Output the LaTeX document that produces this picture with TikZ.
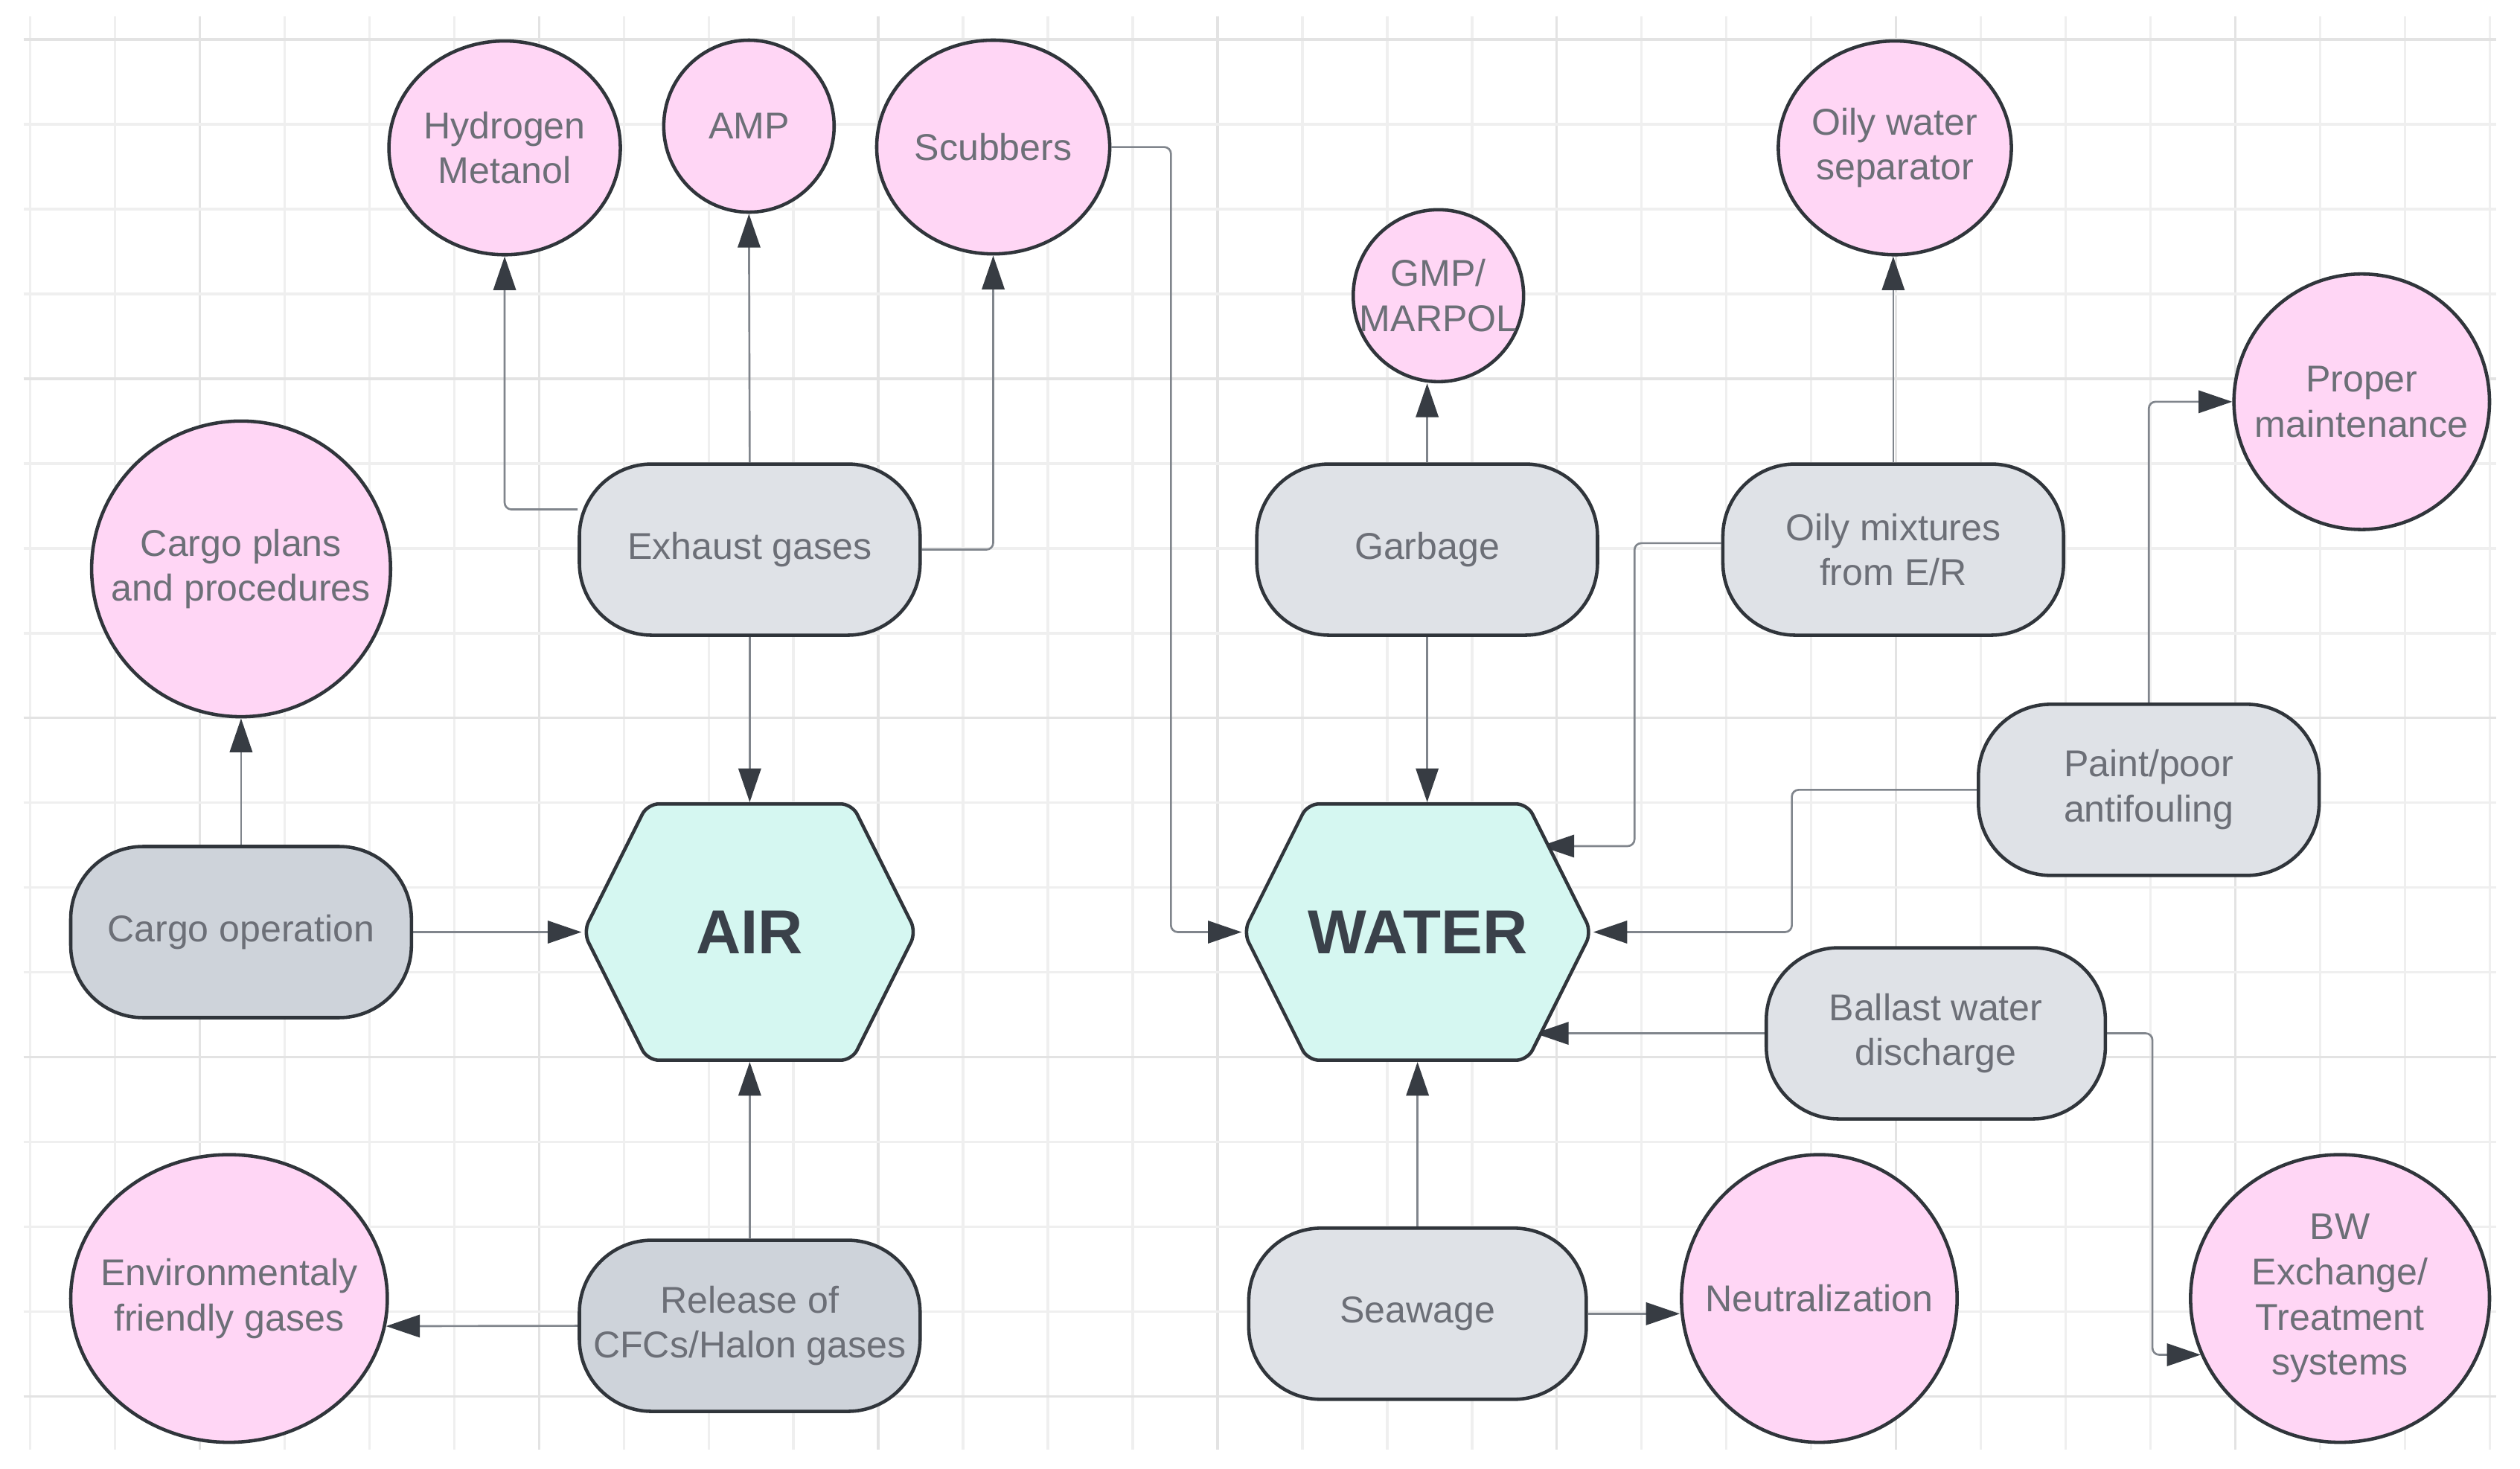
\documentclass[tikz,border=0pt]{standalone}
\usepackage{fontspec}
\setmainfont{Liberation Sans}
\usepackage{xcolor}
\usetikzlibrary{arrows.meta, positioning, calc, shapes.geometric, shapes.symbols}

\definecolor{gridlight}{HTML}{EFEFEF}
\definecolor{griddark}{HTML}{E3E3E3}
\definecolor{edgecol}{HTML}{30353B}
\definecolor{linecol}{HTML}{80858C}
\definecolor{tipcol}{HTML}{373C43}
\definecolor{txtcol}{HTML}{6C6F77}
\definecolor{hubtxt}{HTML}{3A414A}
\definecolor{pinkfill}{HTML}{FFD6F5}
\definecolor{grayfill}{HTML}{DFE2E7}
\definecolor{grayfilldark}{HTML}{CED3DA}
\definecolor{hubfill}{HTML}{D5F7F1}

\pgfdeclarelayer{background}
\pgfsetlayers{background,main}

\begin{document}
\begin{tikzpicture}[
  outcome/.style={ellipse, draw=edgecol, line width=0.6pt, fill=pinkfill, text=txtcol,
    align=center, inner sep=-8mm, font=\fontsize{6.6}{8}\selectfont},
  source/.style={rectangle, rounded corners=0.45cm, draw=edgecol, line width=0.6pt,
    fill=grayfill, text=txtcol, align=center, inner sep=0pt,
    minimum width=2.12cm, minimum height=1.065cm, font=\fontsize{6.6}{8}\selectfont},
  hub/.style={signal, signal to=west and east, signal pointer angle=126.87,
    draw=edgecol, line width=0.6pt, fill=hubfill, rounded corners=2pt, inner sep=0pt,
    minimum width=2.07cm, minimum height=1.595cm, text=hubtxt,
    font=\bfseries\fontsize{11}{13}\selectfont},
  flow/.style={draw=linecol, line width=0.35pt, rounded corners=1.2pt,
    -{Triangle[length=2.1mm, width=1.4mm, color=tipcol]}}
]

% Define lengths
\def\picw{15.68}
\def\pich{9.14}
\def\cell{0.5277}

\useasboundingbox (0,0) rectangle (\picw,\pich);

% Draw the paper and the grid
\begin{pgfonlayer}{background}
\fill[white] (0,0) rectangle (\picw,\pich);
\foreach \i in {0,...,29} {
  \pgfmathtruncatemacro{\r}{mod(\i,4)}
  \ifnum\r=2 \def\gc{griddark}\else\def\gc{gridlight}\fi
  \draw[\gc, line width=0.45pt] (0.188+\cell*\i,9.04) -- (0.188+\cell*\i,0.12);
}
\foreach \j in {0,...,16} {
  \pgfmathtruncatemacro{\r}{mod(\j,4)}
  \ifnum\r=0 \def\gc{griddark}\else\def\gc{gridlight}\fi
  \draw[\gc, line width=0.45pt] (0.147,8.894-\cell*\j) -- (15.53,8.894-\cell*\j);
}
\end{pgfonlayer}

% Draw the two hubs
\node[hub] (air) at (4.665,3.34) {AIR};
\node[hub] (water) at (8.82,3.34) {WATER};

% Draw the air sources and measures
\node[source] (exhaust) at (4.665,5.72) {Exhaust gases};
\node[source, fill=grayfilldark] (cargoop) at (1.50,3.34) {Cargo operation};
\node[source, fill=grayfilldark] (release) at (4.665,0.89) {Release of\\CFCs/Halon gases};
\node[outcome, minimum width=1.44cm, minimum height=1.33cm] (hydro) at (3.14,8.22) {Hydrogen\\Metanol};
\node[outcome, minimum width=1.06cm, minimum height=1.07cm] (amp) at (4.66,8.355) {AMP};
\node[outcome, minimum width=1.45cm, minimum height=1.33cm] (scub) at (6.18,8.225) {Scubbers};
\node[outcome, minimum width=1.86cm, minimum height=1.84cm] (plans) at (1.50,5.60) {Cargo plans\\and procedures};
\node[outcome, minimum width=1.97cm, minimum height=1.79cm] (env) at (1.425,1.06) {Environmentaly\\friendly gases};

% Draw the water sources and measures
\node[source] (garbage) at (8.88,5.72) {Garbage};
\node[source] (oily) at (11.78,5.72) {Oily mixtures\\from E/R};
\node[source] (paint) at (13.37,4.225) {Paint/poor\\antifouling};
\node[source, minimum width=2.11cm] (ballast) at (12.045,2.71) {Ballast water\\discharge};
\node[source, minimum width=2.10cm] (seawage) at (8.82,0.965) {Seawage};
\node[outcome, minimum width=1.06cm, minimum height=1.07cm] (gmp) at (8.95,7.30) {GMP/\\MARPOL};
\node[outcome, minimum width=1.45cm, minimum height=1.33cm] (sep) at (11.79,8.22) {Oily water\\separator};
\node[outcome, minimum width=1.59cm, minimum height=1.59cm] (proper) at (14.695,6.64) {Proper\\maintenance};
\node[outcome, minimum width=1.715cm, minimum height=1.79cm] (neutral) at (11.32,1.06) {Neutralization};
\node[outcome, minimum width=1.86cm, minimum height=1.79cm] (bw) at (14.56,1.06) {BW\\Exchange/\\Treatment\\systems};

\begin{pgfonlayer}{background}
% Connectors on the air side
\draw[flow] ([yshift=0.25cm]exhaust.west) -| (hydro.south);
\draw[flow] (exhaust.north) -- (amp.south);
\draw[flow] (exhaust.east) -| (scub.south);
\draw[flow] (exhaust.south) -- (air.north);
\draw[flow] (cargoop.north) -- (plans.south);
\draw[flow] (cargoop.east) -- (air.west);
\draw[flow] (release.north) -- (air.south);
\draw[flow] (release.west) -- (env.-10);

% Connectors on the water side
\draw[flow] (scub.east) -| ([xshift=-0.44cm]water.west) -- (water.west);
\draw[flow] (garbage.north) -- (garbage.north |- gmp.south);
\draw[flow] (garbage.south) -- (garbage.south |- water.north);
\draw[flow] (oily.north) -- (oily.north |- sep.south);
\draw[flow] ([yshift=0.04cm]oily.west) -| ([xshift=1.35cm, yshift=0.535cm]water.center)
  -- ([xshift=0.765cm, yshift=0.535cm]water.center);
\draw[flow] (paint.north) |- (proper.west);
\draw[flow] (paint.west) -| ([xshift=1.235cm]water.east) -- (water.east);
\draw[flow] (ballast.west) -- ([xshift=0.73cm, yshift=-0.63cm]water.center);
\draw[flow] (ballast.east) -| ([xshift=-0.3cm]bw.202) -- (bw.202);
\draw[flow] (seawage.north) -- (water.south);
\draw[flow] (seawage.east) -- (seawage.east -| neutral.west);
\end{pgfonlayer}

\end{tikzpicture}
\end{document}
